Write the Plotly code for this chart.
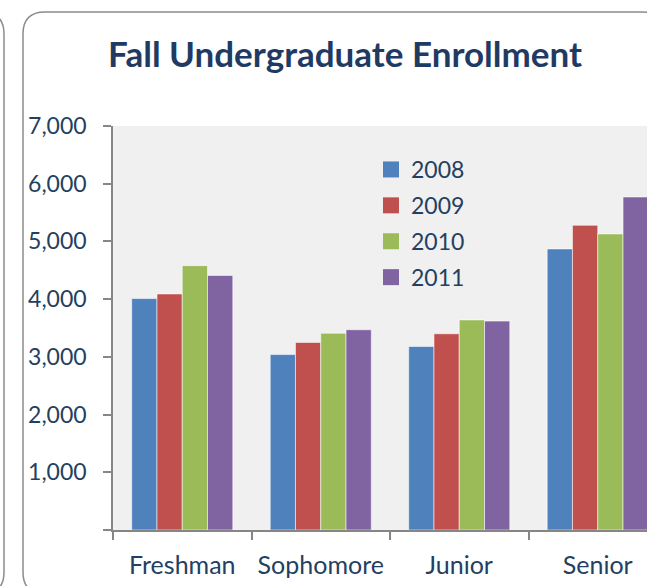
import plotly.graph_objects as go

categories = ["Freshman", "Sophomore", "Junior", "Senior"]
years = ["2008", "2009", "2010", "2011"]
enroll_2008 = [4010, 3040, 3180, 4870]
enroll_2009 = [4090, 3250, 3400, 5280]
enroll_2010 = [4580, 3410, 3640, 5130]
enroll_2011 = [4410, 3470, 3620, 5770]
y_ticks = [0, 1000, 2000, 3000, 4000, 5000, 6000, 7000]
y_tick_text = ["", "1,000", "2,000", "3,000", "4,000", "5,000", "6,000", "7,000"]

series = [enroll_2008, enroll_2009, enroll_2010, enroll_2011]
colors = ["#4F81BD", "#C0504D", "#9BBB59", "#8064A2"]

W, H = 647, 586
L, R, T, B = 113, 0, 126, 56
PW, PH = W - L - R, H - T - B
TXT = "#243F60"
FONT = "Lato"


def px(x):
    return (x - L) / PW


def py(y):
    return (H - B - y) / PH


def rounded(x0, y0, x1, y1, r):
    pts = [
        ("M", [(x0 + r, y0)]),
        ("L", [(x1 - r, y0)]),
        ("Q", [(x1, y0), (x1, y0 + r)]),
        ("L", [(x1, y1 - r)]),
        ("Q", [(x1, y1), (x1 - r, y1)]),
        ("L", [(x0 + r, y1)]),
        ("Q", [(x0, y1), (x0, y1 - r)]),
        ("L", [(x0, y0 + r)]),
        ("Q", [(x0, y0), (x0 + r, y0)]),
    ]
    s = ""
    for cmd, ps in pts:
        s += cmd + " ".join(f"{px(a):.5f},{py(b):.5f}" for a, b in ps) + " "
    return s + "Z"


fig = go.Figure()
for yr, vals, c in zip(years, series, colors):
    fig.add_trace(go.Bar(
        x=categories, y=vals, name=yr, legendgroup=yr, showlegend=False,
        marker=dict(color=c, line=dict(color="rgba(255,255,255,0.55)", width=1)),
    ))
# legend swatches (bigger squares than the default bar legend symbol)
for yr, c in zip(years, colors):
    fig.add_trace(go.Scatter(
        x=[None], y=[None], mode="markers", name=yr, legendgroup=yr,
        marker=dict(symbol="square", size=16, color=c), hoverinfo="skip",
    ))

fig.update_layout(
    width=W, height=H,
    margin=dict(l=L, r=R, t=T, b=B, pad=0),
    paper_bgcolor="white",
    plot_bgcolor="#F0F0F0",
    barmode="group", bargap=0.27, bargroupgap=0,
    font=dict(family=FONT, color=TXT, size=22),
    title=dict(text="<b>Fall Undergraduate Enrollment</b>",
               font=dict(family=FONT, size=35, color="#1F3B63"),
               x=px(345), xref="paper", xanchor="center",
               y=1 - 55 / H, yanchor="middle"),
    legend=dict(x=px(371), y=py(148), xanchor="left", yanchor="top",
                bgcolor="rgba(0,0,0,0)", font=dict(size=23, color=TXT),
                traceorder="grouped", tracegroupgap=3),
    xaxis=dict(range=[-0.5, 3.5 - 20 / 138.5], tickson="boundaries",
               ticks="outside", ticklen=8, tickcolor="#868686", tickwidth=1.5,
               showline=True, linecolor="#868686", linewidth=1.5,
               showgrid=False, tickfont=dict(size=25, color=TXT),
               ticklabelstandoff=12),
    yaxis=dict(range=[0, 7000], tickvals=y_ticks, ticktext=y_tick_text,
               ticks="outside", ticklen=8, tickcolor="#868686", tickwidth=1.5,
               showline=True, linecolor="#868686", linewidth=1.5,
               showgrid=False, zeroline=False, tickfont=dict(size=23, color=TXT),
               ticklabelstandoff=12),
    shapes=[
        dict(type="path", xref="paper", yref="paper",
             path=rounded(23, 12, 664, 594, 22),
             line=dict(color="#8C8C8C", width=1.5), layer="below"),
        dict(type="path", xref="paper", yref="paper",
             path=rounded(-60, 12, 4, 594, 22),
             line=dict(color="#8C8C8C", width=1.5), layer="below"),
    ],
)

fig.write_html(
    "out.html",
    config={"displayModeBar": False},
    post_script="document.body.style.margin='0';document.body.style.overflow='hidden';",
)
